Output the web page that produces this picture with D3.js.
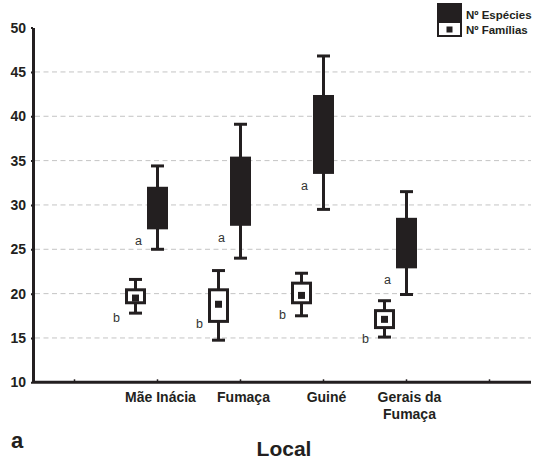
<!DOCTYPE html>
<html>
<head>
<meta charset="utf-8">
<script src="https://cdn.jsdelivr.net/npm/d3@7"></script>
<style>
  body { margin: 0; background: #fff; }
  svg { display: block; }
  text { font-family: "Liberation Sans", Arial, Helvetica, sans-serif; }
</style>
</head>
<body>
<svg id="chart" width="537" height="461"></svg>
<script>
// Sampling sites (the axis has an empty slot at each end)
const slots = ["s0", "Mãe Inácia", "Fumaça", "Guiné", "Gerais da Fumaça", "s5"];
const locais = ["Mãe Inácia", "Fumaça", "Guiné", "Gerais da Fumaça"];

// Nº Espécies: whisker min, box lower, box upper, whisker max
const especiesMin = [25.0, 24.0, 29.5, 19.9];
const especiesQ1  = [27.25, 27.65, 33.5, 22.85];
const especiesQ3  = [32.05, 35.45, 42.4, 28.55];
const especiesMax = [34.4, 39.1, 46.8, 31.5];
const especiesLetra = ["a", "a", "a", "a"];

// Nº Famílias: whisker min, box lower, box upper, whisker max, mean
const familiasMin  = [17.8, 14.75, 17.5, 15.1];
const familiasQ1   = [18.8, 16.7, 18.8, 16.0];
const familiasQ3   = [20.6, 20.6, 21.35, 18.25];
const familiasMax  = [21.6, 22.6, 22.3, 19.2];
const familiasMean = [19.5, 18.8, 19.8, 17.1];
const familiasLetra = ["b", "b", "b", "b"];

const yTicks = [10, 15, 20, 25, 30, 35, 40, 45, 50];
const legendLabels = ["Nº Espécies", "Nº Famílias"];
const xTitle = "Local";
const panelLetter = "a";

const ink = "#231f20";
const svg = d3.select("#chart");

const x = d3.scaleBand().domain(slots).range([33, 531]).padding(0);
const y = d3.scaleLinear().domain([10, 50]).range([382.3, 27.6]);
const cx = d => x(d) + x.bandwidth() / 2;

// dashed horizontal grid
svg.append("g")
  .selectAll("line")
  .data(yTicks.filter(t => t > 10 && t < 50))
  .join("line")
  .attr("x1", 35).attr("x2", 531)
  .attr("y1", d => y(d)).attr("y2", d => y(d))
  .attr("stroke", "#c4c4c4").attr("stroke-width", 1)
  .attr("stroke-dasharray", "5,3.5");

// y axis
const yAxis = svg.append("g")
  .attr("transform", "translate(33,0)")
  .call(d3.axisLeft(y).tickValues(yTicks).tickSize(2).tickPadding(5).tickSizeOuter(0));
yAxis.select(".domain").attr("stroke", ink).attr("stroke-width", 3);
yAxis.selectAll(".tick line").attr("stroke", ink).attr("stroke-width", 2);
yAxis.selectAll(".tick text")
  .attr("fill", ink).attr("font-size", 14).attr("font-weight", "bold")
  .attr("font-family", "Liberation Sans, Arial, sans-serif");

// x axis
const xAxis = svg.append("g")
  .attr("transform", `translate(0,${y(10)})`)
  .call(d3.axisBottom(x).tickSize(-2).tickSizeOuter(0).tickFormat(() => ""));
xAxis.select(".domain").attr("stroke", ink).attr("stroke-width", 3)
  .attr("d", `M33,0H531`);
xAxis.selectAll(".tick line").attr("stroke", ink).attr("stroke-width", 1.5)
  .attr("transform", "translate(0,-1)");

// category labels (wrapped onto two lines where needed)
const wrap = { "Gerais da Fumaça": ["Gerais da", "Fumaça"] };
const catLabels = svg.append("g")
  .selectAll("text")
  .data(locais)
  .join("text")
  .attr("x", d => cx(d) + 3)
  .attr("y", 401.5)
  .attr("text-anchor", "middle")
  .attr("font-size", 14).attr("font-weight", "bold").attr("fill", ink);
catLabels.each(function (d) {
  const lines = wrap[d] || [d];
  const t = d3.select(this);
  lines.forEach((ln, i) => {
    t.append("tspan").attr("x", cx(d) + 3).attr("dy", i === 0 ? 0 : 17).text(ln);
  });
});

// axis title and panel letter
svg.append("text").attr("x", 284).attr("y", 456)
  .attr("text-anchor", "middle").attr("font-size", 21).attr("font-weight", "bold")
  .attr("fill", ink).text(xTitle);
svg.append("text").attr("x", 11).attr("y", 448)
  .attr("font-size", 22).attr("font-weight", "bold")
  .attr("fill", ink).text(panelLetter);

const capW = 13, boxW = 21, famOffset = -22;

// Nº Espécies boxes (solid)
const sp = svg.append("g").selectAll("g").data(locais).join("g");
sp.append("line")
  .attr("x1", d => cx(d)).attr("x2", d => cx(d))
  .attr("y1", (d, i) => y(especiesMin[i])).attr("y2", (d, i) => y(especiesMax[i]))
  .attr("stroke", ink).attr("stroke-width", 3);
[especiesMin, especiesMax].forEach(arr => {
  sp.append("line")
    .attr("x1", d => cx(d) - capW / 2).attr("x2", d => cx(d) + capW / 2)
    .attr("y1", (d, i) => y(arr[i])).attr("y2", (d, i) => y(arr[i]))
    .attr("stroke", ink).attr("stroke-width", 3);
});
sp.append("rect")
  .attr("x", d => cx(d) - boxW / 2).attr("width", boxW)
  .attr("y", (d, i) => y(especiesQ3[i]))
  .attr("height", (d, i) => y(especiesQ1[i]) - y(especiesQ3[i]))
  .attr("fill", ink);
sp.append("text")
  .attr("x", d => cx(d) - 19)
  .attr("y", (d, i) => y(especiesQ1[i]) + 16)
  .attr("text-anchor", "middle").attr("font-size", 12.5).attr("fill", "#333")
  .text((d, i) => especiesLetra[i]);

// Nº Famílias boxes (open with mean marker)
const fm = svg.append("g").selectAll("g").data(locais).join("g");
const fx = d => cx(d) + famOffset;
fm.append("line")
  .attr("x1", fx).attr("x2", fx)
  .attr("y1", (d, i) => y(familiasMin[i])).attr("y2", (d, i) => y(familiasMax[i]))
  .attr("stroke", ink).attr("stroke-width", 3);
[familiasMin, familiasMax].forEach(arr => {
  fm.append("line")
    .attr("x1", d => fx(d) - capW / 2).attr("x2", d => fx(d) + capW / 2)
    .attr("y1", (d, i) => y(arr[i])).attr("y2", (d, i) => y(arr[i]))
    .attr("stroke", ink).attr("stroke-width", 3);
});
fm.append("rect")
  .attr("x", d => fx(d) - boxW / 2 + 1.5).attr("width", boxW - 3)
  .attr("y", (d, i) => y(familiasQ3[i]) + 1.5)
  .attr("height", (d, i) => y(familiasQ1[i]) - y(familiasQ3[i]) - 3)
  .attr("fill", "#fff").attr("stroke", ink).attr("stroke-width", 3);
fm.append("rect")
  .attr("x", d => fx(d) - 3.5).attr("width", 7)
  .attr("y", (d, i) => y(familiasMean[i]) - 3.5).attr("height", 7)
  .attr("fill", ink);
fm.append("text")
  .attr("x", d => fx(d) - 19)
  .attr("y", (d, i) => y(familiasMean[i]) + 24)
  .attr("text-anchor", "middle").attr("font-size", 12.5).attr("fill", "#333")
  .text((d, i) => familiasLetra[i]);

// legend
const lg = svg.append("g");
lg.append("rect").attr("x", 437).attr("y", 3).attr("width", 25).attr("height", 18).attr("fill", ink);
lg.append("rect").attr("x", 438).attr("y", 22).attr("width", 23).attr("height", 14)
  .attr("fill", "#fff").attr("stroke", ink).attr("stroke-width", 2);
lg.append("rect").attr("x", 446.5).attr("y", 26.5).attr("width", 6).attr("height", 6).attr("fill", ink);
lg.selectAll("text").data(legendLabels).join("text")
  .attr("x", 466).attr("y", (d, i) => 19 + i * 15)
  .attr("font-size", 11.5).attr("font-weight", "bold").attr("fill", ink)
  .text(d => d);
</script>
</body>
</html>
